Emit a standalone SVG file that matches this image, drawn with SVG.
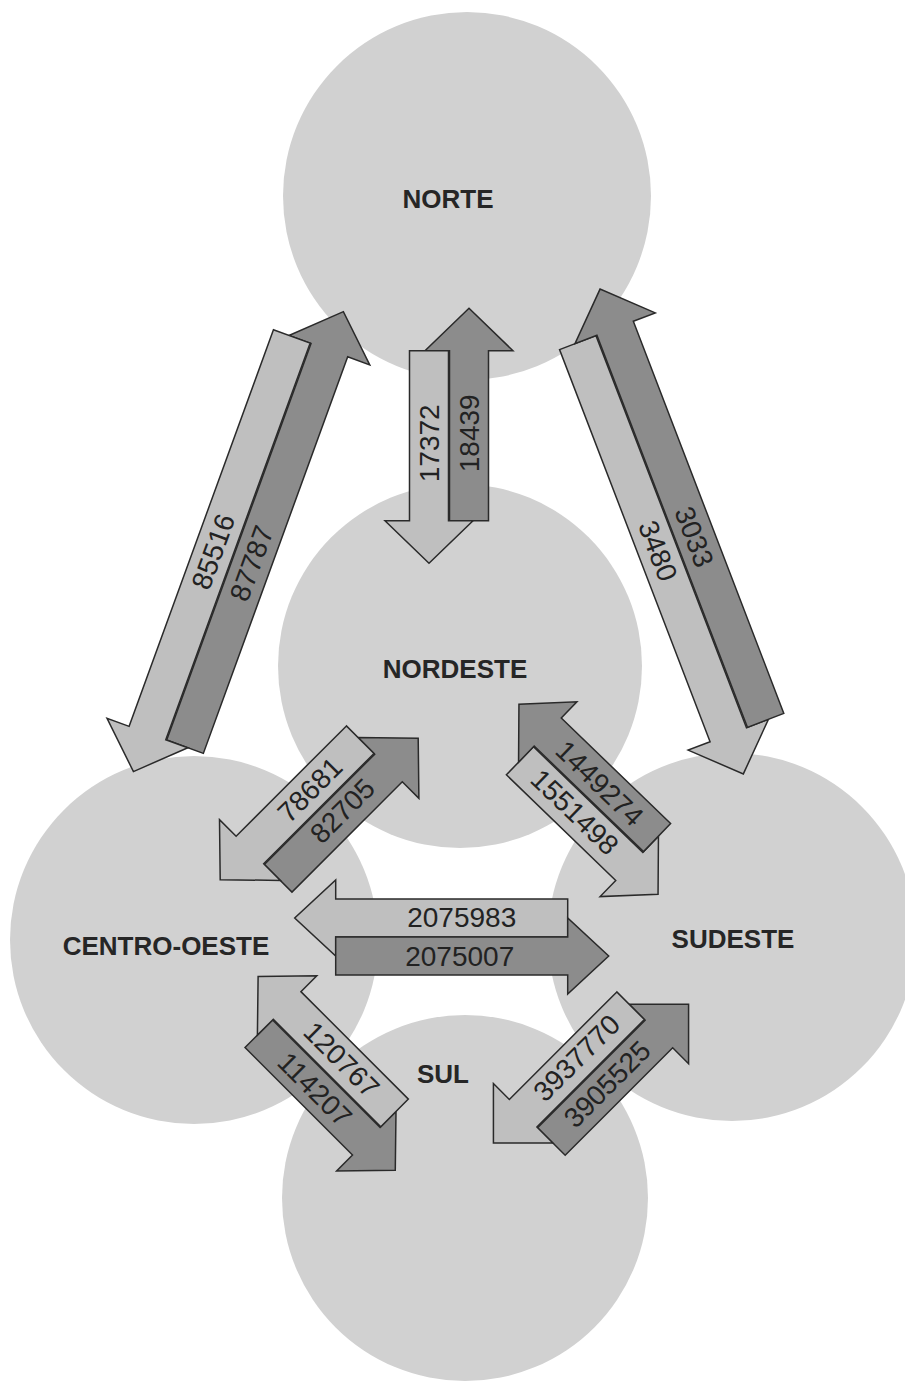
<svg xmlns="http://www.w3.org/2000/svg" width="905" height="1382" viewBox="0 0 905 1382">
<style>
.node{fill:#d1d1d1}
.lbl{font-family:"Liberation Sans",Arial,sans-serif;font-weight:bold;font-size:26px;fill:#262626;text-anchor:middle}
.lt{fill:#bfbfbf;stroke:#2a2a2a;stroke-width:1.5;stroke-linejoin:miter}
.dk{fill:#8c8c8c;stroke:#2a2a2a;stroke-width:1.5;stroke-linejoin:miter}
.num{font-family:"Liberation Sans",Arial,sans-serif;font-size:28px;fill:#222;text-anchor:middle;dominant-baseline:central}
</style>
<rect width="905" height="1382" fill="#ffffff"/>
<g id="norte"><circle class="node" cx="467" cy="196" r="184"/><text class="lbl" x="448" y="208">NORTE</text></g>
<g id="nordeste"><circle class="node" cx="460" cy="666" r="182"/><text class="lbl" x="455" y="678">NORDESTE</text></g>
<g id="centro-oeste"><circle class="node" cx="194" cy="940" r="184"/><text class="lbl" x="166" y="955">CENTRO-OESTE</text></g>
<g id="sudeste"><circle class="node" cx="732" cy="937" r="184"/><text class="lbl" x="733" y="948">SUDESTE</text></g>
<g id="sul"><circle class="node" cx="465" cy="1198" r="183"/><text class="lbl" x="443" y="1083">SUL</text></g>
<g id="connectors">
<g id="norte-centro" transform="translate(238.4,541.6) rotate(-70)">
<polygon class="dk" points="-211,0.5 211,0.5 211,-23 252,20 211,63 211,39.5 -211,39.5"/>
<polygon class="lt" points="211,-39.5 -211,-39.5 -211,-63 -252,-20 -211,23 -211,-0.5 211,-0.5"/>
<text class="num" x="-18" y="-20">85516</text>
<text class="num" x="-16" y="20">87787</text>
</g>
<g id="norte-nordeste" transform="translate(449,435.8) rotate(-90)">
<polygon class="dk" points="-85,0.5 85,0.5 85,-24 127.5,20 85,64 85,39.5 -85,39.5"/>
<polygon class="lt" points="85,-39.5 -85,-39.5 -85,-64 -127.5,-20 -85,24 -85,-0.5 85,-0.5"/>
<text class="num" x="-7.5" y="-20">17372</text>
<text class="num" x="2.5" y="20">18439</text>
</g>
<g id="norte-sudeste" transform="translate(671.7,531.5) rotate(69)">
<polygon class="lt" points="-210,0.5 210,0.5 210,-23 252,20 210,63 210,39.5 -210,39.5"/>
<polygon class="dk" points="210,-39.5 -210,-39.5 -210,-63 -252,-20 -210,23 -210,-0.5 210,-0.5"/>
<text class="num" x="13" y="-19">3033</text>
<text class="num" x="13" y="20">3480</text>
</g>
<g id="nordeste-centro" transform="translate(319.2,809) rotate(-45)">
<polygon class="dk" points="-78,0.5 78,0.5 78,-23 120,20 78,63 78,39.5 -78,39.5"/>
<polygon class="lt" points="78,-39.5 -78,-39.5 -78,-63 -120,-20 -78,23 -78,-0.5 78,-0.5"/>
<text class="num" x="7" y="-20">78681</text>
<text class="num" x="15" y="18">82705</text>
</g>
<g id="nordeste-sudeste" transform="translate(588.5,799.2) rotate(44)">
<polygon class="lt" points="-76,0.5 76,0.5 76,-22 116,20 76,62 76,39.5 -76,39.5"/>
<polygon class="dk" points="76,-39.5 -76,-39.5 -76,-62 -116,-20 -76,22 -76,-0.5 76,-0.5"/>
<text class="num" x="-3" y="-19">1449274</text>
<text class="num" x="-1" y="19">1551498</text>
</g>
<g id="centro-sudeste" transform="translate(451.7,937)">
<polygon class="lt" points="116,-38 -116,-38 -116,-57 -157,-19 -116,19 -116,0 116,0"/>
<polygon class="dk" points="-116,0 116,0 116,-19 157,19 116,57 116,38 -116,38"/>
<text class="num" x="10" y="-20">2075983</text>
<text class="num" x="8" y="19">2075007</text>
</g>
<g id="centro-sul" transform="translate(326.7,1073.3) rotate(45)">
<polygon class="dk" points="-76,0.5 76,0.5 76,-22 117,20 76,62 76,39.5 -76,39.5"/>
<polygon class="lt" points="76,-39.5 -76,-39.5 -76,-62 -117,-20 -76,22 -76,-0.5 76,-0.5"/>
<text class="num" x="1" y="-20">120767</text>
<text class="num" x="3" y="20">114207</text>
</g>
<g id="sul-sudeste" transform="translate(591,1073.6) rotate(-45)">
<polygon class="dk" points="-76,0.5 76,0.5 76,-22 118,20 76,62 76,39.5 -76,39.5"/>
<polygon class="lt" points="76,-39.5 -76,-39.5 -76,-62 -118,-20 -76,22 -76,-0.5 76,-0.5"/>
<text class="num" x="1" y="-21">3937770</text>
<text class="num" x="4" y="19">3905525</text>
</g>
</g>
</svg>
